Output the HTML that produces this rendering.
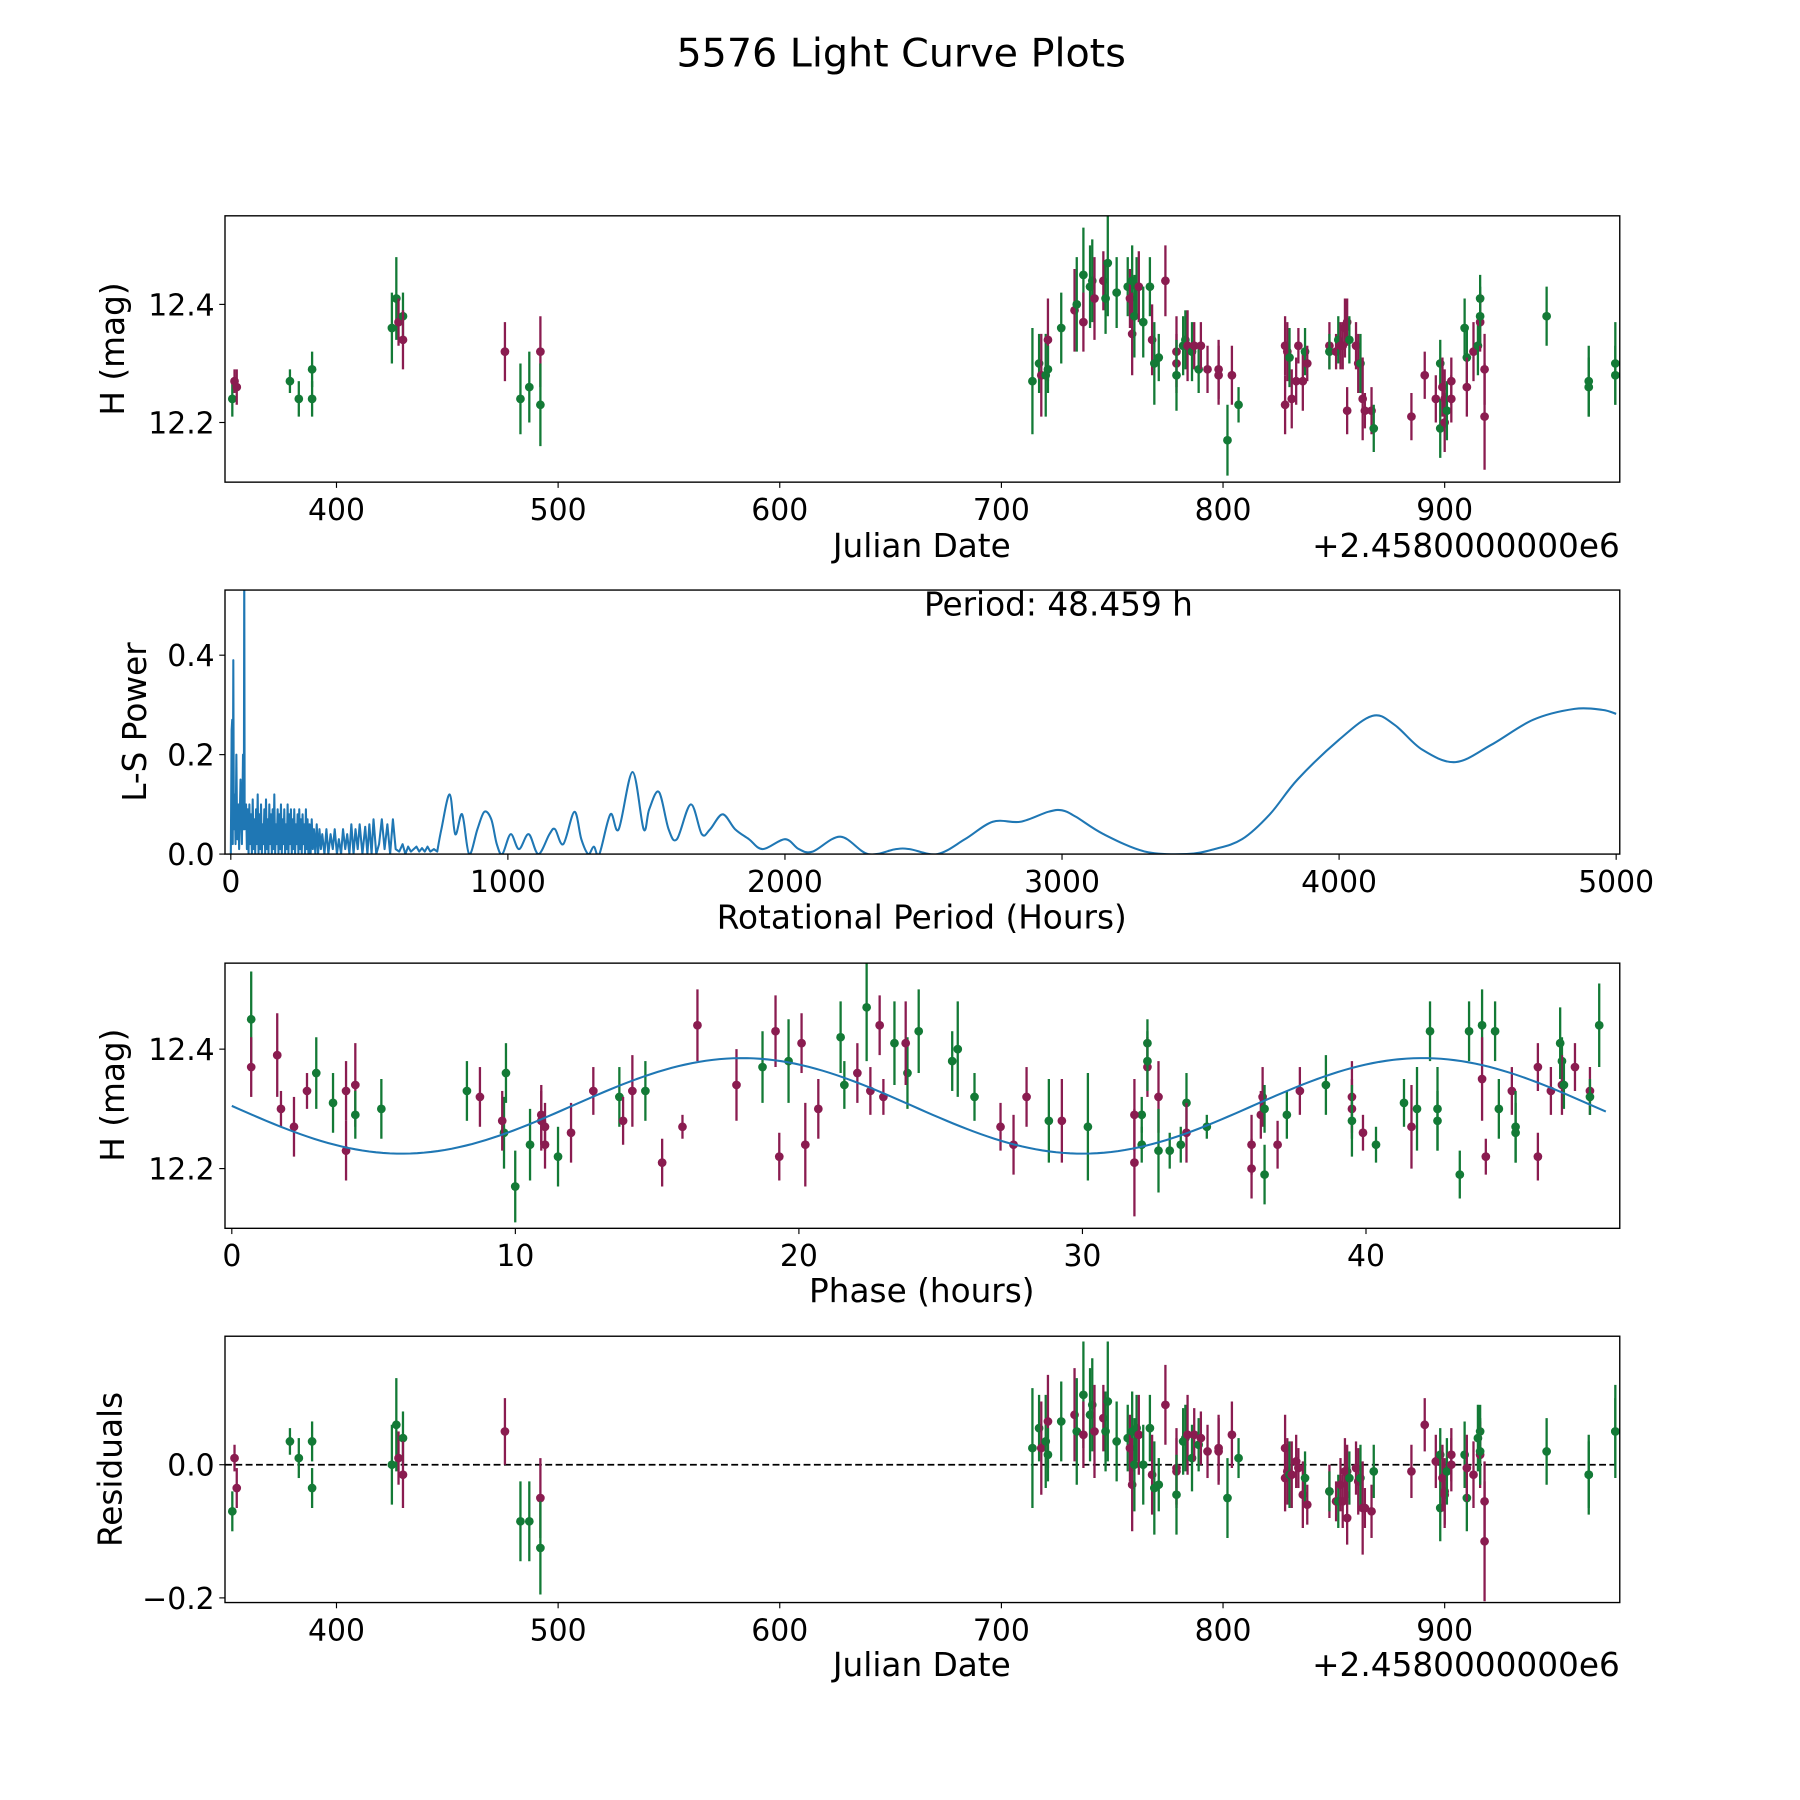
<!DOCTYPE html>
<html><head><meta charset="utf-8"><style>
html,body{margin:0;padding:0;background:#fff}
svg{display:block;font-family:"DejaVu Sans","Liberation Sans",sans-serif}
</style></head><body>
<svg id="fig" width="1800" height="1800" viewBox="0 0 1568 1568" xmlns="http://www.w3.org/2000/svg">
<rect width="1568" height="1568" fill="#fff"/>
<text x="785" y="58" font-size="34.5" text-anchor="middle">5576 Light Curve Plots</text>
</svg>
<script>
// ---- data ----
const jd = [353,354,355,379,383,389,389,425,427,428,430,430,476,483,487,492,492,714,717,718,720,721,721,727,733,734,737,737,740,741,742,746,747,748,752,757,758,759,759,760,761,762,764,767,768,769,771,774,779,779,779,782,783,784,786,787,789,790,793,798,798,802,804,807,828,828,829,830,831,833,834,836,837,838,848,848,851,852,853,854,855,856,857,856,860,861,862,863,864,867,868,885,891,896,898,898,899,900,900,901,903,903,909,910,910,913,915,916,916,916,918,918,946,965,965,977,977,981];
const mag = [12.24,12.27,12.26,12.27,12.24,12.29,12.24,12.36,12.41,12.37,12.38,12.34,12.32,12.24,12.26,12.32,12.23,12.27,12.30,12.28,12.28,12.34,12.29,12.36,12.39,12.40,12.45,12.37,12.43,12.44,12.41,12.44,12.41,12.47,12.42,12.43,12.41,12.44,12.35,12.38,12.43,12.43,12.37,12.43,12.34,12.30,12.31,12.44,12.30,12.32,12.28,12.33,12.34,12.33,12.32,12.33,12.29,12.33,12.29,12.28,12.29,12.17,12.28,12.23,12.33,12.23,12.32,12.31,12.24,12.27,12.33,12.27,12.32,12.30,12.33,12.32,12.32,12.34,12.33,12.33,12.36,12.37,12.34,12.22,12.33,12.30,12.30,12.24,12.22,12.22,12.19,12.21,12.28,12.24,12.19,12.30,12.26,12.24,12.20,12.22,12.24,12.27,12.36,12.31,12.26,12.32,12.33,12.41,12.37,12.38,12.29,12.21,12.38,12.27,12.26,12.28,12.30,12.27];
const err = [.03,.02,.03,.02,.03,.03,.03,.06,.07,.04,.04,.05,.05,.06,.06,.06,.07,.09,.05,.07,.07,.07,.04,.06,.07,.08,.08,.05,.07,.07,.07,.05,.06,.09,.06,.05,.05,.06,.07,.07,.05,.06,.06,.05,.06,.07,.04,.06,.05,.06,.06,.05,.05,.06,.05,.04,.04,.04,.04,.05,.05,.06,.05,.03,.05,.05,.05,.05,.05,.04,.03,.05,.04,.03,.04,.03,.03,.04,.04,.04,.05,.04,.04,.04,.04,.05,.05,.07,.03,.04,.04,.04,.04,.04,.05,.04,.05,.05,.05,.05,.04,.04,.05,.05,.05,.05,.05,.04,.05,.05,.06,.09,.05,.06,.05,.05,.07,.07];
const resid = [-0.07,0.01,-0.035,0.035,0.01,0.035,-0.035,0.0,0.06,0.01,0.04,-0.015,0.05,-0.085,-0.085,-0.05,-0.125,
0.025,0.055,0.025,0.035,0.065,0.015,0.065,0.075,0.05,0.105,0.045,0.075,0.09,0.05,0.07,0.05,0.095,0.035,0.04,0.025,0.05,-0.03,0.0,0.055,0.045,0.0,0.055,-0.015,-0.035,-0.03,0.09,-0.01,-0.005,-0.045,0.035,0.04,0.045,0.01,0.045,0.03,0.04,0.02,0.025,0.02,-0.05,0.045,0.01,
0.025,-0.02,-0.01,-0.015,-0.015,0.005,-0.005,-0.045,-0.02,-0.06,-0.04,-0.04,-0.055,-0.055,-0.03,-0.055,-0.01,-0.01,-0.02,-0.08,-0.005,-0.025,-0.02,-0.065,-0.065,-0.07,-0.01,
-0.01,0.06,0.005,-0.065,0.015,-0.02,-0.04,-0.045,-0.01,0.0,0.015,0.015,-0.05,-0.005,-0.015,0.04,0.05,0.015,0.02,-0.055,-0.115,0.02,-0.015,-0.015,0.05,0.05,0.025];
const band = "gmmggggggmgmmggmgggmgmggmggmggmmggggmgmggmggmggmmmgggmgmgmmmmgmgmmmgmmmmgmmgmgmmmmgmmmgmmmgmmmggmmmgmmggmmggmgmmgggggmggmgg";
const period = 48.459;
const fitMean = 12.305, fitAmp = 0.08, fitPeak = 18;
const lsPeriods = [
0,3,5,7,9,11,14,17,20,23, 27,30,35,40,44,47,48.5,50,55,58,
61,64,67,70,73,76,79,82,85,88, 91,94,97,100,103,106,109,112,115,118,
121,124,127,130,133,136,139,142,145,148, 151,154,157,160,163,166,169,172,175,178,
181,184,187,190,193,196,199,202,205,208, 211,214,217,220,223,226,229,232,235,238,
241,244,247,250,253,256,259,262,265,268, 271,274,277,280,
284,288,292,296,300,305,310,315,320,325, 330,338,345,352,360,368,375,383,390,398,
405,413,420,428,435,443,450,458,465,475, 485,493,500,508,515,525,535,545,555,565,
575,585,595,608,620,630,640,650,660,670, 680,690,700,710,720,733,745,
760,790,810,835,860,890,915,940,960,980, 1010,1040,1075,1110,1150,1170,1200,1240,1265,1290,
1310,1330,1370,1400,1450,1490,1510,1545,1580,1610, 1660,1700,1730,1775,1820,1870,1920,2000,2050,2100,
2200,2300,2400,2450,2550,2650,2750,2850,2950,3000, 3050,3150,3300,3450,3550,3650,3750,3850,4000,4120,
4200,4300,4420,4550,4700,4850,4950,5000];
const lsPower = [
0,0.25,0.27,0.02,0.39,0.05,0.12,0.02,0.2,0.03, 0.1,0.01,0.15,0.02,0.2,0.05,0.6,0.05,0.1,0.01,
0.09,0.0,0.1,0.02,0.08,0.0,0.11,0.01,0.07,0.0, 0.09,0.02,0.12,0.0,0.08,0.01,0.1,0.0,0.06,0.02,
0.09,0.0,0.11,0.01,0.07,0.0,0.1,0.02,0.08,0.0, 0.09,0.01,0.12,0.0,0.06,0.02,0.09,0.0,0.08,0.01,
0.1,0.0,0.07,0.02,0.09,0.0,0.06,0.01,0.1,0.0, 0.08,0.02,0.09,0.0,0.07,0.01,0.09,0.0,0.06,0.02,
0.08,0.0,0.09,0.01,0.07,0.0,0.08,0.02,0.06,0.0, 0.09,0.01,0.07,0.0,
0.06,0.0,0.07,0.01,0.05,0.0,0.06,0.0,0.05,0.01, 0.04,0.0,0.05,0.0,0.04,0.01,0.05,0.0,0.03,0.0,
0.05,0.01,0.04,0.0,0.06,0.0,0.05,0.01,0.06,0.0, 0.055,0.0,0.06,0.0,0.07,0.0,0.02,0.07,0.01,0.06,
0.0,0.07,0.01,0.005,0.02,0.0,0.015,0.005,0.01,0.015, 0.005,0.012,0.005,0.015,0.005,0.01,0.005,
0.05,0.12,0.04,0.08,0.0,0.05,0.085,0.07,0.02,0.0, 0.04,0.01,0.04,0.0,0.04,0.05,0.02,0.085,0.03,0.0,
0.015,0.0,0.08,0.05,0.165,0.05,0.09,0.125,0.05,0.03, 0.1,0.04,0.05,0.08,0.05,0.03,0.01,0.03,0.01,0.005,
0.035,0.0,0.01,0.01,0.0,0.03,0.065,0.065,0.085,0.088, 0.075,0.04,0.005,0.0,0.01,0.03,0.08,0.15,0.23,0.278,
0.26,0.21,0.185,0.22,0.27,0.292,0.29,0.282];
const jdTicks = [400,500,600,700,800,900];
const magTicks = [12.2,12.4];
const lsXTicks = [0,1000,2000,3000,4000,5000];
const lsYTicks = [0.0,0.2,0.4];
const phaseTicks = [0,10,20,30,40];
const resTicks = [-0.2,0.0];

// ---- helpers ----
const NS = "http://www.w3.org/2000/svg";
const svg = document.getElementById('fig');
function mk(tag, attrs, parent){const e=document.createElementNS(NS,tag);for(const k in attrs)e.setAttribute(k,attrs[k]);(parent||svg).appendChild(e);return e;}
const GREEN="#137a36", MAROON="#8a1c50", BLUE="#1f77b4";
const TICK=26, LAB=28.5;
function lin(d0,d1,r0,r1){return v=>r0+(v-d0)*(r1-r0)/(d1-d0);}
function model(ph){return fitMean + fitAmp*Math.cos(2*Math.PI*(ph-fitPeak)/24);}
function phaseOf(t){const h=(2458000+t)*24;return ((h%period)+period)%period;}

function panel(name,x0,y0,x1,y1){
  const g=mk('g',{});
  
  
  const cid=name+'-clip';
  const cp=mk('clipPath',{id:cid},g);mk('rect',{x:x0,y:y0,width:x1-x0,height:y1-y0},cp);
  const inner=mk('g',{'clip-path':'url(#'+cid+')'},g);
  return {g,inner,x0,y0,x1,y1};
}
function frame(p){const r=mk('rect',{x:p.x0,y:p.y0,width:p.x1-p.x0,height:p.y1-p.y0,fill:'none',stroke:'#000','stroke-width':1.2},p.g);
  
  }
function xticks(p,ticks,sx,fmt){ticks.forEach(v=>{const x=sx(v);mk('line',{x1:x,x2:x,y1:p.y1,y2:p.y1+5,stroke:'#000','stroke-width':1},p.g);
  const t=mk('text',{x:x,y:p.y1+33,'font-size':TICK,'text-anchor':'middle'},p.g);t.textContent=fmt(v);
  
  });}
function yticks(p,ticks,sy,fmt){ticks.forEach(v=>{const y=sy(v);mk('line',{x1:p.x0-5,x2:p.x0,y1:y,y2:y,stroke:'#000','stroke-width':1},p.g);
  const t=mk('text',{x:p.x0-9,y:y+9.5,'font-size':TICK,'text-anchor':'end'},p.g);t.textContent=fmt(v);
  
  });}
function label(p,txt,x,y,rot,nm){const t=mk('text',{x:x,y:y,'font-size':LAB,'text-anchor':'middle'},p.g);
  if(rot)t.setAttribute('transform','rotate(-90 '+x+' '+y+')');t.textContent=txt;
  
  }
function errpt(p,x,yc,ylo,yhi,col){
  mk('line',{x1:x,x2:x,y1:ylo,y2:yhi,stroke:col,'stroke-width':2},p.inner);
  const c=mk('circle',{cx:x,cy:yc,r:3.8,fill:col},p.inner);
  
  
}
function smoothSeg(xs,ys){let d='';
  for(let i=0;i<xs.length-1;i++){const x0=xs[Math.max(0,i-1)],y0=ys[Math.max(0,i-1)],x1=xs[i],y1=ys[i],x2=xs[i+1],y2=ys[i+1],x3=xs[Math.min(xs.length-1,i+2)],y3=ys[Math.min(xs.length-1,i+2)];
    d+=' C'+(x1+(x2-x0)/6).toFixed(2)+' '+(y1+(y2-y0)/6).toFixed(2)+' '+(x2-(x3-x1)/6).toFixed(2)+' '+(y2-(y3-y1)/6).toFixed(2)+' '+x2.toFixed(2)+' '+y2.toFixed(2);}
  return d;}

// ---- Panel 1: light curve ----
{
  const p=panel('light-curve-panel',196,188,1411,420);
  const sx=lin(349.7,979,196,1411), sy=lin(12.099,12.55,420,188);
  jd.forEach((t,i)=>{const col=band[i]==='g'?GREEN:MAROON;errpt(p,sx(t),sy(mag[i]),sy(mag[i]-err[i]),sy(mag[i]+err[i]),col);});
  frame(p);xticks(p,jdTicks,sx,v=>String(v));yticks(p,magTicks,sy,v=>v.toFixed(1));
  label(p,'Julian Date',803,485,false,'x-axis-title');
  label(p,'H (mag)',108,304,true,'y-axis-title');
  const o=mk('text',{x:1411,y:485,'font-size':LAB,'text-anchor':'end'},p.g);o.textContent='+2.4580000000e6';
  
  
}
// ---- Panel 2: periodogram ----
{
  const p=panel('periodogram-panel',196,514,1411,744);
  const sx=lin(-21,5013,196,1411), sy=lin(0,0.531,744,514);
  const n=Math.min(lsPeriods.length,lsPower.length);
  let cut=lsPeriods.findIndex(v=>v>=745); if(cut<0||cut>=n)cut=n-1;
  let d='';
  for(let i=0;i<=cut;i++){d+=(i?' L':'M')+sx(lsPeriods[i]).toFixed(2)+' '+sy(lsPower[i]).toFixed(2);}
  const xs=[],ys=[];for(let i=cut;i<n;i++){xs.push(sx(lsPeriods[i]));ys.push(sy(lsPower[i]));}
  d+=smoothSeg(xs,ys);
  const path=mk('path',{d:d,fill:'none',stroke:BLUE,'stroke-width':1.8,'stroke-linejoin':'round'},p.inner);
  
  
  frame(p);xticks(p,lsXTicks,sx,v=>String(v));yticks(p,lsYTicks,sy,v=>v.toFixed(1));
  label(p,'Rotational Period (Hours)',803,809,false,'x-axis-title');
  label(p,'L-S Power',127,629,true,'y-axis-title');
  const t=mk('text',{x:922,y:536,'font-size':LAB,'text-anchor':'middle'},p.g);t.textContent='Period: '+period.toFixed(3)+' h';
  
  
}
// ---- Panel 3: phase-folded ----
{
  const p=panel('phase-fold-panel',196,839,1411,1070);
  const sx=lin(-0.24,48.95,196,1411), sy=lin(12.1,12.544,1070,839);
  jd.forEach((t,i)=>{const ph=phaseOf(t);const col=band[i]==='g'?GREEN:MAROON;errpt(p,sx(ph),sy(mag[i]),sy(mag[i]-err[i]),sy(mag[i]+err[i]),col);});
  let d='';for(let k=0;k<=200;k++){const ph=period*k/200;d+=(k?'L':'M')+sx(ph).toFixed(2)+' '+sy(model(ph)).toFixed(2)+' ';}
  const c=mk('path',{d:d,fill:'none',stroke:BLUE,'stroke-width':1.8},p.inner);
  
  
  frame(p);xticks(p,phaseTicks,sx,v=>String(v));yticks(p,magTicks,sy,v=>v.toFixed(1));
  label(p,'Phase (hours)',803,1134,false,'x-axis-title');
  label(p,'H (mag)',108,954,true,'y-axis-title');
}
// ---- Panel 4: residuals ----
{
  const p=panel('residuals-panel',196,1164,1411,1396);
  const sx=lin(349.7,979,196,1411), sy=lin(-0.207,0.193,1396,1164);
  const z=mk('line',{x1:196,x2:1411,y1:sy(0),y2:sy(0),stroke:'#000','stroke-width':1.5,'stroke-dasharray':'6,3'},p.inner);
  
  
  jd.forEach((t,i)=>{const r=resid[i];const col=band[i]==='g'?GREEN:MAROON;errpt(p,sx(t),sy(r),sy(r-err[i]),sy(r+err[i]),col);});
  frame(p);xticks(p,jdTicks,sx,v=>String(v));yticks(p,resTicks,sy,v=>v<0?'\u2212'+Math.abs(v).toFixed(1):v.toFixed(1));
  label(p,'Julian Date',803,1460,false,'x-axis-title');
  label(p,'Residuals',106,1280,true,'y-axis-title');
  const o=mk('text',{x:1411,y:1460,'font-size':LAB,'text-anchor':'end'},p.g);o.textContent='+2.4580000000e6';
  
  
}
</script>
</body></html>
